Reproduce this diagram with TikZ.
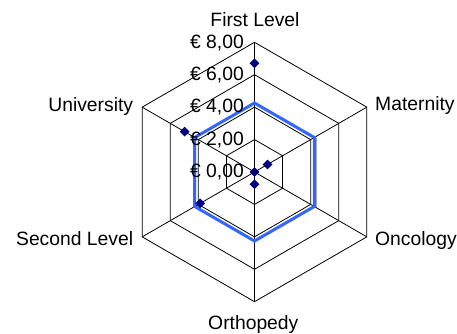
\documentclass[tikz,border=0pt]{standalone}
\usepackage{fontspec}
\setmainfont{Liberation Sans}
\usetikzlibrary{calc,shapes.geometric}
\definecolor{seriesblue}{RGB}{51,102,255}
\definecolor{marknavy}{RGB}{0,0,128}
\begin{document}
\begin{tikzpicture}[x=1pt,y=1pt,
  font=\fontsize{19.3}{22}\selectfont,
  gridline/.style={black,line width=0.8pt},
  avgline/.style={seriesblue,line width=3pt,line join=miter},
  shadowline/.style={gray!70,line width=1pt},
  datamark/.style={diamond,fill=marknavy,draw=none,inner sep=0pt,minimum size=10pt},
  axlabel/.style={inner sep=0pt},
  vallabel/.style={inner sep=0pt,anchor=base east}]
\useasboundingbox (0,0) rectangle (457,333);
\coordinate (O) at (254.5,161);
% axis end points
\foreach \n/\a in {fl/90,ma/30,on/-30,or/-90,sl/-150,un/150}{
  \coordinate (\n) at ($(O)+(\a:129.7)$);
}
% rings
\foreach \r in {32.43,64.85,97.28,129.7}{
  \draw[gridline] ($(O)+(90:\r)$) -- ($(O)+(30:\r)$) -- ($(O)+(-30:\r)$) -- ($(O)+(-90:\r)$) -- ($(O)+(-150:\r)$) -- ($(O)+(150:\r)$) -- cycle;
}
% spokes
\foreach \n in {fl,ma,on,or,sl,un}{
  \draw[gridline] (O) -- (\n);
}
% blue series
\coordinate (b1) at ($(O)+(90:69)$);
\coordinate (b2) at ($(O)+(30:69)$);
\coordinate (b3) at ($(O)+(-30:69)$);
\coordinate (b4) at ($(O)+(-90:69)$);
\coordinate (b5) at ($(O)+(-150:69)$);
\coordinate (b6) at ($(O)+(150:69)$);
\draw[shadowline] ($(b2)+(1.8,0)$) -- ($(b3)+(1.8,0)$);
\draw[avgline] (b1) -- (b2) -- (b3) -- (b4) -- (b5) -- (b6) -- cycle;
% data markers
\node[datamark] (dfl) at ($(O)+(90:108.7)$) {};
\node[datamark] (dma) at ($(O)+(30:15)$) {};
\node[datamark] (don) at (O) {};
\node[datamark] (dor) at ($(O)+(-90:12.3)$) {};
\node[datamark] (dsl) at ($(O)+(-150:62.8)$) {};
\node[datamark] (dun) at ($(O)+(150:80.7)$) {};
% value labels
\node[vallabel] (v8) at (244,284.9) {€ 8,00};
\node[vallabel] (v6) at (244,252.5) {€ 6,00};
\node[vallabel] (v4) at (244,220.1) {€ 4,00};
\node[vallabel] (v2) at (244,187.6) {€ 2,00};
\node[vallabel] (v0) at (244,155.5) {€ 0,00};
% axis labels
\node[axlabel,anchor=base] (lfl) at (255,307) {First Level};
\node[axlabel,anchor=base east] (lun) at (133.3,221.3) {University};
\node[axlabel,anchor=base east] (lsl) at (133.3,87.3) {Second Level};
\node[axlabel,anchor=base west] (lma) at (375,222.6) {Maternity};
\node[axlabel,anchor=base west] (lon) at (375,87.3) {Oncology};
\node[axlabel,anchor=base] (lor) at (253.3,3.8) {Orthopedy};
\end{tikzpicture}
\end{document}
